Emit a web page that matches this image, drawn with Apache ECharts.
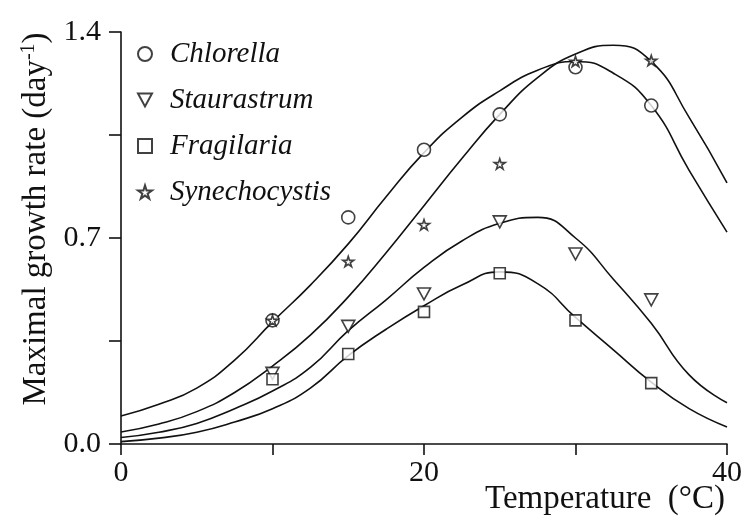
<!DOCTYPE html>
<html>
<head>
<meta charset="utf-8">
<script src="https://cdn.jsdelivr.net/npm/echarts@6/dist/echarts.min.js"></script>
<style>
html,body{margin:0;padding:0;background:#fff;}
#chart{width:748px;height:523px;}
</style>
</head>
<body>
<div id="chart"></div>
<script>
// ---- Data ----
var temps = [10, 15, 20, 25, 30, 35];
var chlorella     = [0.42, 0.77, 1.00, 1.12, 1.28, 1.15];
var staurastrum   = [0.24, 0.40, 0.51, 0.755, 0.646, 0.49];
var fragilaria    = [0.22, 0.306, 0.449, 0.58, 0.42, 0.207];
var synechocystis = [0.42, 0.62, 0.745, 0.952, 1.30, 1.303];

var fitT = [0, 2.5, 5, 7.5, 10, 12.5, 15, 17.5, 20, 22.5, 25, 27.5, 30, 32.5, 35, 37.5, 40];
var fitChlorella     = [0.095, 0.135, 0.19, 0.285, 0.415, 0.54, 0.68, 0.84, 0.99, 1.11, 1.20, 1.27, 1.30, 1.26, 1.15, 0.93, 0.72];
var fitSynechocystis = [0.041, 0.068, 0.11, 0.175, 0.265, 0.37, 0.50, 0.65, 0.81, 0.97, 1.12, 1.245, 1.325, 1.355, 1.30, 1.11, 0.887];
var fitStaurastrum   = [0.022, 0.04, 0.07, 0.12, 0.18, 0.26, 0.385, 0.49, 0.60, 0.69, 0.75, 0.77, 0.70, 0.56, 0.41, 0.235, 0.14];
var fitFragilaria    = [0.008, 0.02, 0.04, 0.075, 0.12, 0.19, 0.30, 0.39, 0.47, 0.54, 0.585, 0.545, 0.43, 0.32, 0.21, 0.12, 0.058];

var xTicks = [0, 20, 40];
var yTicks = [0.0, 0.7, 1.4];
var legendNames = ['Chlorella', 'Staurastrum', 'Fragilaria', 'Synechocystis'];

function pairs(xs, ys) { return xs.map(function (x, i) { return [x, ys[i]]; }); }

var starPath = 'path://M50,0 L61,35 L98,35 L68,57 L79,91 L50,70 L21,91 L32,57 L2,35 L39,35 Z';
var triDownPath = 'path://M0,0 L12,0 L6,11 Z';
var serif = '"Liberation Serif", "DejaVu Serif", serif';

var markerStyle = { color: '#fff', borderColor: '#111', borderWidth: 1.6 };

function scatter(name, ys, symbol, size) {
  return {
    name: name, type: 'scatter', data: pairs(temps, ys),
    symbol: symbol, symbolSize: size, symbolKeepAspect: true,
    itemStyle: markerStyle, z: 5, silent: true
  };
}
function fit(name, ys) {
  return {
    name: name, type: 'line', data: pairs(fitT, ys), smooth: true,
    symbol: 'none', lineStyle: { color: '#111', width: 1.6 }, z: 3, silent: true
  };
}

var chart = echarts.init(document.getElementById('chart'), null, { renderer: 'canvas' });
chart.setOption({
  animation: false,
  backgroundColor: '#fff',
  grid: { left: 121, right: 21, top: 32, bottom: 79, containLabel: false },
  legend: {
    data: legendNames,
    orient: 'vertical',
    left: 132, top: 34,
    itemWidth: 14, itemHeight: 14, itemGap: 16,
    textStyle: { fontFamily: serif, fontStyle: 'italic', fontSize: 29, color: '#111', lineHeight: 30, padding: [0, 0, 0, 13] },
    selectedMode: false
  },
  xAxis: {
    type: 'value', min: 0, max: 40, interval: 10,
    axisLine: { lineStyle: { color: '#111', width: 1.6 } },
    axisTick: { show: true, length: 11, lineStyle: { color: '#111', width: 1.6 } },
    splitLine: { show: false },
    axisLabel: {
      color: '#111', fontFamily: serif, fontSize: 30, margin: 14,
      formatter: function (v) { return xTicks.indexOf(v) >= 0 ? String(v) : ''; }
    }
  },
  yAxis: {
    type: 'value', min: 0, max: 1.4, interval: 0.35,
    axisLine: { show: true, lineStyle: { color: '#111', width: 1.6 } },
    axisTick: { show: true, length: 12, lineStyle: { color: '#111', width: 1.6 } },
    splitLine: { show: false },
    axisLabel: {
      color: '#111', fontFamily: serif, fontSize: 30, margin: 20,
      formatter: function (v) {
        for (var i = 0; i < yTicks.length; i++) { if (Math.abs(yTicks[i] - v) < 1e-6) return yTicks[i].toFixed(1); }
        return '';
      }
    },
    name: 'Maximal growth rate (day{sup|-1})',
    nameLocation: 'middle', nameGap: 68,
    nameTextStyle: {
      color: '#111', fontFamily: serif, fontSize: 33, padding: [0, 0, 0, 38],
      rich: { sup: { fontFamily: serif, fontSize: 20, color: '#111', verticalAlign: 'top', padding: [0, 0, 14, 0] } }
    }
  },
  graphic: [{
    type: 'text', right: 23, top: 483,
    style: { text: 'Temperature  (\u00B0C)', fontFamily: serif, fontSize: 33, fill: '#111' }
  }],
  series: [
    scatter('Chlorella', chlorella, 'circle', 13),
    scatter('Staurastrum', staurastrum, triDownPath, 13),
    scatter('Fragilaria', fragilaria, 'rect', 11),
    scatter('Synechocystis', synechocystis, starPath, 11),
    fit('Chlorella fit', fitChlorella),
    fit('Synechocystis fit', fitSynechocystis),
    fit('Staurastrum fit', fitStaurastrum),
    fit('Fragilaria fit', fitFragilaria)
  ]
});
</script>
</body>
</html>
